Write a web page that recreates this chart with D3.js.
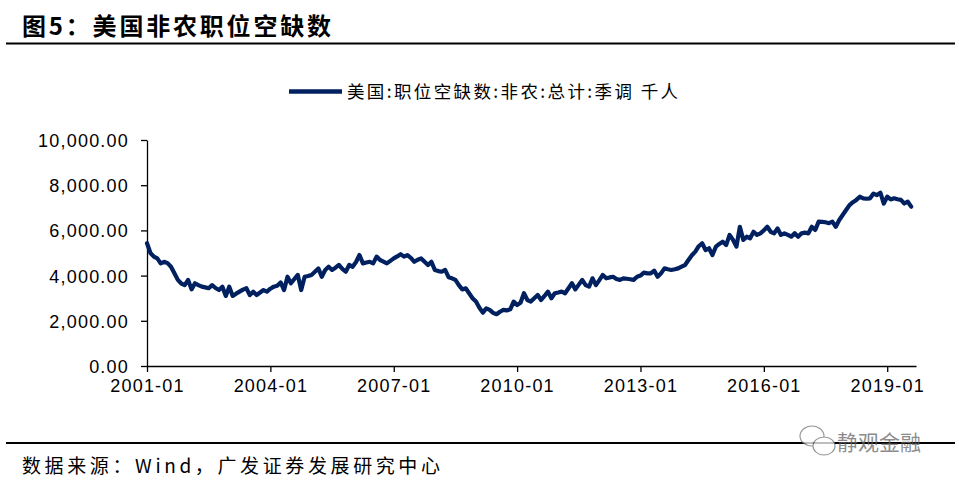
<!DOCTYPE html>
<html><head><meta charset="utf-8">
<script src="https://cdn.jsdelivr.net/npm/d3@7"></script>
<style>body{margin:0;background:#fff}svg{display:block}</style>
</head><body>
<svg id="c" width="959" height="486"></svg>
<script>
// ---- data ----
const startYear = 2001;
const openings = [
5430,5000,4840,4760,4540,4610,4550,4390,4100,3810,3650,3580,
3810,3390,3660,3580,3510,3480,3440,3580,3450,3360,3510,3100,
3510,3100,3200,3290,3380,3440,3140,3290,3140,3250,3360,3290,
3420,3510,3550,3700,3360,3950,3660,3850,4030,3360,3950,3980,
4030,4170,4320,3950,4250,4390,4250,4350,4470,4300,4170,4470,
4390,4600,4910,4540,4580,4610,4540,4840,4690,4620,4540,4650,
4760,4850,4950,4840,4910,4780,4610,4700,4760,4610,4470,4610,
4250,4200,4170,4250,3930,3880,3810,3580,3390,3440,3220,3000,
2850,2580,2360,2550,2480,2350,2290,2400,2480,2460,2510,2850,
2700,2800,3220,2920,2850,3000,3140,2920,3100,3290,3000,3220,
3250,3290,3220,3440,3660,3390,3600,3810,3580,3510,3880,3580,
3800,4030,3880,3920,3950,3850,3810,3880,3860,3840,3810,3950,
4000,4130,4100,4100,4220,3950,4100,4320,4280,4250,4280,4320,
4400,4470,4690,4900,5060,5300,5430,5130,5210,4910,5280,5400,
5500,5350,5800,5580,5280,6160,5580,5720,5650,5940,5800,5870,
6000,6160,5940,5870,6090,5800,5870,5800,5720,5870,5720,5870,
5900,5870,6160,6020,6390,6380,6360,6320,6390,6160,6460,6680,
6900,7120,7250,7350,7490,7420,7400,7420,7630,7560,7670,7190,
7490,7370,7420,7380,7350,7190,7270,7050
];
const yTicks = [0, 2000, 4000, 6000, 8000, 10000];
const xTickLabels = ["2001-01","2004-01","2007-01","2010-01","2013-01","2016-01","2019-01"];
const titleText = "图5：美国非农职位空缺数";
const legendText = "美国:职位空缺数:非农:总计:季调 千人";
const sourceText = "数据来源：Wind，广发证券发展研究中心";
const watermarkText = "静观金融";

// ---- drawing ----
const svg = d3.select("#c");
const CJK = "'Noto Sans CJK SC','Noto Sans',sans-serif";
const LAT = "'Liberation Sans',Arial,sans-serif";
const navy = "#002060";

const x = d3.scaleLinear().domain([0, 224.4]).range([147, 916]);
const y = d3.scaleLinear().domain([0, 10000]).range([366, 140]);

// title
svg.append("text").attr("x", 22).attr("y", 35)
  .attr("font-family", CJK).attr("font-weight", "bold").attr("font-size", 24)
  .attr("textLength", 309).attr("lengthAdjust", "spacing")
  .attr("fill", "#000").text(titleText);
svg.append("line").attr("x1", 6).attr("x2", 955).attr("y1", 43.5).attr("y2", 43.5)
  .attr("stroke", "#000").attr("stroke-width", 2.2);

// legend
svg.append("line").attr("x1", 289).attr("x2", 342).attr("y1", 91.5).attr("y2", 91.5)
  .attr("stroke", navy).attr("stroke-width", 4.5);
svg.append("text").attr("x", 347).attr("y", 97.5)
  .attr("font-family", CJK).attr("font-size", 17.5)
  .attr("textLength", 331).attr("lengthAdjust", "spacing")
  .attr("fill", "#000").text(legendText);

// axes
const yAxis = d3.axisLeft(y).tickValues(yTicks).tickFormat(d3.format(",.2f"))
  .tickSize(6).tickSizeOuter(0).tickPadding(12);
const gy = svg.append("g").attr("transform", "translate(147,0)").call(yAxis);
gy.selectAll("text").attr("font-family", LAT).attr("font-size", 18)
  .attr("letter-spacing", "1.2px").attr("fill", "#000").attr("dy", "0.36em");

const tickIdx = xTickLabels.map(s => (+s.slice(0,4) - startYear) * 12 + (+s.slice(5) - 1));
const xAxis = d3.axisBottom(x).tickValues(tickIdx)
  .tickFormat((d, i) => xTickLabels[i]).tickSize(6).tickSizeOuter(0).tickPadding(7);
const gx = svg.append("g").attr("transform", "translate(0,366)").call(xAxis);
gx.selectAll("text").attr("font-family", LAT).attr("font-size", 18)
  .attr("letter-spacing", "1.2px").attr("fill", "#000");
[gx, gy].forEach(g => {
  g.select(".domain").attr("stroke", "#000").attr("stroke-width", 1.3);
  g.selectAll(".tick line").attr("stroke", "#000").attr("stroke-width", 1.3);
});

// line
svg.append("path").datum(openings)
  .attr("fill", "none").attr("stroke", navy).attr("stroke-width", 4.2)
  .attr("stroke-linejoin", "round").attr("stroke-linecap", "round")
  .attr("d", d3.line().x((d, i) => x(i)).y(d => y(d)));

// footer
svg.append("line").attr("x1", 6).attr("x2", 955).attr("y1", 443).attr("y2", 443)
  .attr("stroke", "#000").attr("stroke-width", 2.2);
svg.append("text").attr("x", 22).attr("y", 473)
  .attr("font-family", CJK).attr("font-size", 19)
  .attr("textLength", 418).attr("lengthAdjust", "spacing")
  .attr("fill", "#000").text(sourceText);

// watermark
const wm = svg.append("g").attr("opacity", 0.75);
wm.append("ellipse").attr("cx", 812).attr("cy", 436).attr("rx", 12).attr("ry", 10)
  .attr("fill", "#fff").attr("stroke", "#777").attr("stroke-width", 1.2);
wm.append("ellipse").attr("cx", 824).attr("cy", 446).attr("rx", 11).attr("ry", 9)
  .attr("fill", "#fff").attr("stroke", "#777").attr("stroke-width", 1.2);
wm.append("text").attr("x", 837).attr("y", 450)
  .attr("font-family", CJK).attr("font-size", 21).attr("fill", "#666")
  .text(watermarkText);
</script>
</body></html>
